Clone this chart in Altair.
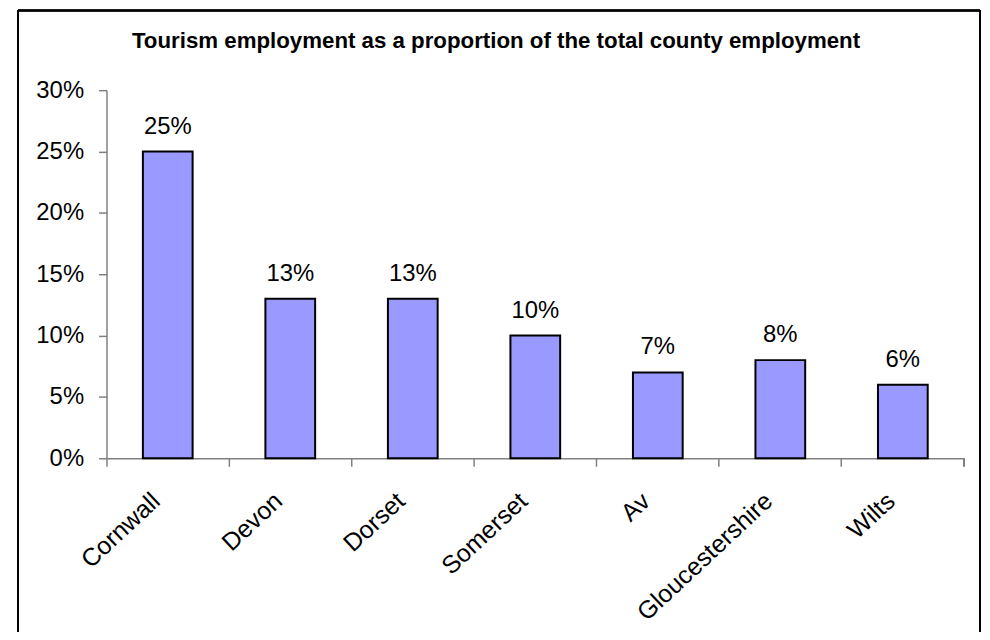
import altair as alt
import pandas as pd

counties = ["Cornwall", "Devon", "Dorset", "Somerset", "Avon", "Gloucestershire", "Wilts"]
shares = [0.25, 0.13, 0.13, 0.10, 0.07, 0.08, 0.06]
y_ticks = [0, 0.05, 0.10, 0.15, 0.20, 0.25, 0.30]
title_text = "Tourism employment as a proportion of the total county employment"

df = pd.DataFrame({"county": counties, "share": shares})

W, H = 862, 370
FONT = "Liberation Sans"
AXIS_GRAY = "#808080"

x_enc = alt.X(
    "county:N",
    sort=None,
    title=None,
    scale=alt.Scale(paddingInner=0, paddingOuter=0),
    axis=alt.Axis(
        bandPosition=0,
        labelAngle=-43,
        labelAlign="right",
        labelBaseline="top",
        labelOffset=-20,
        labelPadding=22,
        labelFontSize=25,
        labelFont=FONT,
        labelColor="black",
        labelLimit=300,
        labelExpr="datum.label == 'Avon' ? 'Av\u2007\u2007' : datum.label",
        tickSize=8,
        tickColor=AXIS_GRAY,
        tickWidth=1.5,
        domainColor=AXIS_GRAY,
        domainWidth=1.5,
    ),
)

y_enc = alt.Y(
    "share:Q",
    title=None,
    scale=alt.Scale(domain=[0, 0.3], nice=False),
    axis=alt.Axis(
        values=y_ticks,
        format=".0%",
        grid=False,
        labelFontSize=24,
        labelFont=FONT,
        labelColor="black",
        labelPadding=15,
        tickSize=8,
        tickColor=AXIS_GRAY,
        tickWidth=1.5,
        domainColor=AXIS_GRAY,
        domainWidth=1.5,
    ),
)

bars = alt.Chart(df).mark_bar(
    width=alt.RelativeBandSize(0.406),
    color="#9999FF",
    stroke="black",
    strokeWidth=2,
).encode(x=x_enc, y=y_enc)

labels = alt.Chart(df).mark_text(
    baseline="alphabetic",
    dy=-18,
    fontSize=24,
    font=FONT,
    color="black",
).encode(x=alt.X("county:N", sort=None), y="share:Q", text=alt.Text("share:Q", format=".0%"))

# decorative frame and end tick
frame_left = alt.Chart(df).mark_rule(color="black", strokeWidth=1.5).encode(
    x=alt.value(-89), y=alt.value(-80), y2=alt.value(545))
frame_right = alt.Chart(df).mark_rule(color="black", strokeWidth=1.5).encode(
    x=alt.value(878), y=alt.value(-80), y2=alt.value(545))
frame_top = alt.Chart(df).mark_rule(color="black", strokeWidth=1.5).encode(
    x=alt.value(-89), x2=alt.value(878), y=alt.value(-80))
end_tick = alt.Chart(df).mark_rule(color=AXIS_GRAY, strokeWidth=1.5).encode(
    x=alt.value(W), y=alt.value(H), y2=alt.value(H + 8))

chart = alt.layer(bars, labels, frame_left, frame_right, frame_top, end_tick).properties(
    width=W,
    height=H,
    title=alt.Title(
        title_text,
        fontSize=22.4,
        fontWeight="bold",
        font=FONT,
        color="black",
        anchor="middle",
        dx=-39.5,
        offset=-43,
    ),
    autosize=alt.AutoSizeParams(type="none"),
    padding={"left": 99, "top": 81, "right": 18, "bottom": 173},
).configure_view(strokeWidth=0)

chart.save("out.html", embed_options={"renderer": "svg", "actions": False})
